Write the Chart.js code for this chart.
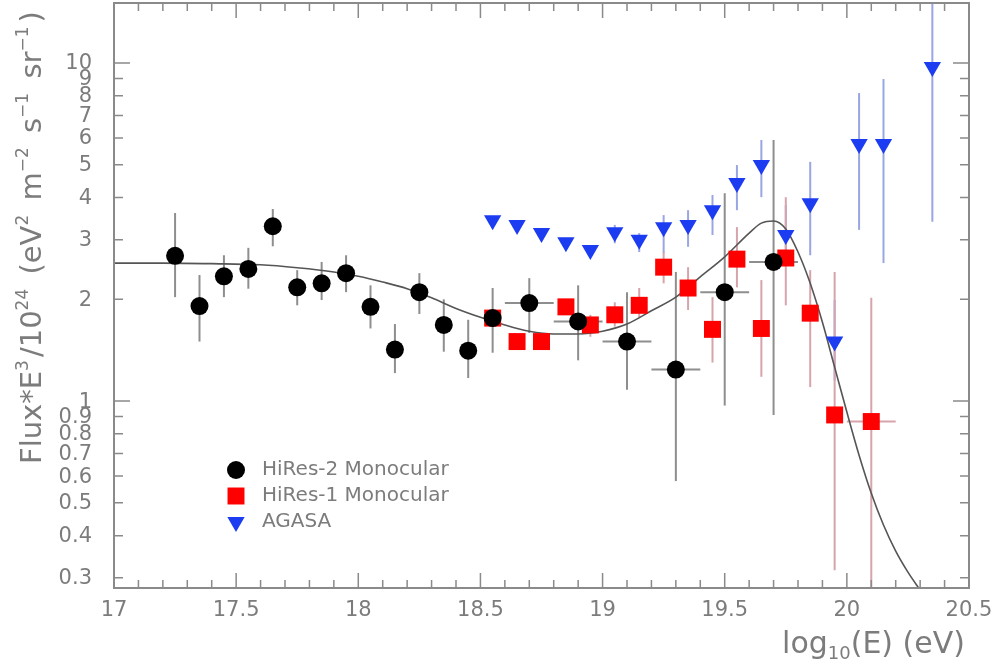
<!DOCTYPE html>
<html>
<head>
<meta charset="utf-8">
<script src="https://cdn.jsdelivr.net/npm/chart.js@4.4.1/dist/chart.umd.min.js"></script>
<style>
  html, body { margin: 0; padding: 0; background: #ffffff; }
  #wrap { width: 995px; height: 665px; }
</style>
</head>
<body>
<div id="wrap"><canvas id="c" width="995" height="665"></canvas></div>
<script>
// ---- HiRes-2 monocular ----
const hires2E    = [17.25, 17.35, 17.45, 17.55, 17.65, 17.75, 17.85, 17.95, 18.05, 18.15, 18.25, 18.35, 18.45, 18.55, 18.70, 18.90, 19.10, 19.30, 19.50, 19.70];
const hires2Flux = [2.69, 1.91, 2.34, 2.46, 3.29, 2.17, 2.23, 2.39, 1.90, 1.42, 2.10, 1.68, 1.41, 1.76, 1.95, 1.72, 1.50, 1.24, 2.10, 2.58];
const hires2Lo   = [2.03, 1.50, 2.03, 2.15, 2.87, 1.92, 1.99, 2.10, 1.64, 1.21, 1.81, 1.40, 1.17, 1.39, 1.59, 1.32, 1.08, 0.58, 0.97, 0.91];
const hires2Hi   = [3.60, 2.36, 2.70, 2.84, 3.70, 2.44, 2.58, 2.70, 2.20, 1.69, 2.39, 2.00, 1.74, 2.16, 2.31, 2.20, 2.10, 2.41, 4.12, 5.92];
const hires2ELo  = [null, null, null, null, null, null, null, null, null, null, null, null, null, null, 18.6, 18.8, 19.0, 19.2, 19.4, 19.6];
const hires2EHi  = [null, null, null, null, null, null, null, null, null, null, null, null, null, null, 18.8, 19.0, 19.2, 19.4, 19.6, 19.8];

// ---- HiRes-1 monocular ----
const hires1E    = [18.55, 18.65, 18.75, 18.85, 18.95, 19.05, 19.15, 19.25, 19.35, 19.45, 19.55, 19.65, 19.75, 19.85, 19.95, 20.10];
const hires1Flux = [1.76, 1.50, 1.50, 1.90, 1.68, 1.80, 1.92, 2.49, 2.16, 1.63, 2.63, 1.64, 2.65, 1.82, 0.91, 0.87];
const hires1Lo   = [null, null, null, null, 1.55, 1.66, 1.76, 2.23, 1.86, 1.30, 2.17, 1.18, 1.92, 1.10, 0.316, 0.20];
const hires1Hi   = [null, null, null, null, 1.80, 1.96, 2.16, 2.76, 2.49, 2.03, 3.27, 2.28, 4.01, 2.44, 2.41, 2.02];
const hires1ELo  = [null, null, null, null, null, null, null, null, null, null, null, null, null, null, null, 20.0];
const hires1EHi  = [null, null, null, null, null, null, null, null, null, null, null, null, null, null, null, 20.2];

// ---- AGASA ----
const agasaE    = [18.55, 18.65, 18.75, 18.85, 18.95, 19.05, 19.15, 19.25, 19.35, 19.45, 19.55, 19.65, 19.75, 19.85, 19.95, 20.05, 20.15, 20.35];
const agasaFlux = [3.43, 3.32, 3.14, 2.95, 2.80, 3.16, 3.00, 3.27, 3.32, 3.67, 4.42, 4.99, 3.10, 3.85, 1.50, 5.76, 5.76, 9.73];
const agasaLo   = [null, null, null, null, null, 2.93, 2.76, 2.74, 2.86, 3.10, 3.67, 4.01, 2.55, 2.70, 1.15, 3.21, 2.56, 3.39];
const agasaHi   = [null, null, null, null, null, 3.32, 3.14, 3.55, 3.67, 4.07, 4.99, 5.92, 3.80, 5.10, 1.99, 8.15, 8.97, 20.0];

// ---- fitted spectrum model ----
const curveE    = [17.0, 17.2, 17.4, 17.6, 17.75, 17.9, 18.0, 18.1, 18.2, 18.3, 18.4, 18.5, 18.6, 18.7, 18.8, 18.9, 19.0, 19.1, 19.2, 19.3, 19.4, 19.5, 19.6, 19.65, 19.7, 19.75, 19.8, 19.85, 19.9, 19.95, 20.0, 20.05, 20.1, 20.15, 20.2, 20.25, 20.3];
const curveFlux = [2.56, 2.56, 2.55, 2.53, 2.48, 2.41, 2.34, 2.25, 2.15, 2.02, 1.88, 1.77, 1.68, 1.61, 1.58, 1.58, 1.61, 1.69, 1.85, 2.03, 2.33, 2.67, 3.14, 3.36, 3.41, 3.23, 2.76, 2.23, 1.71, 1.26, 0.928, 0.692, 0.534, 0.430, 0.360, 0.312, 0.276];

// ---- axis ticks ----
const xTickValues = [17, 17.5, 18, 18.5, 19, 19.5, 20, 20.5];
const xMinorTicks = [17.1, 17.2, 17.3, 17.4, 17.6, 17.7, 17.8, 17.9, 18.1, 18.2, 18.3, 18.4, 18.6, 18.7, 18.8, 18.9, 19.1, 19.2, 19.3, 19.4, 19.6, 19.7, 19.8, 19.9, 20.1, 20.2, 20.3, 20.4];
const yTickValues = [0.3, 0.4, 0.5, 0.6, 0.7, 0.8, 0.9, 1, 2, 3, 4, 5, 6, 7, 8, 9, 10];
const yMajorTicks = [1, 10];

const legendNames = ['HiRes-2 Monocular', 'HiRes-1 Monocular', 'AGASA'];

const GRAY_TEXT = '#7c7c7c';
const FRAME = '#8a8a8a';
const FONT = 'DejaVu Sans';

const toXY = (xs, ys) => xs.map((x, i) => ({ x: x, y: ys[i] }));

const errSeries = [
  { x: agasaE,  y: agasaFlux,  lo: agasaLo,  hi: agasaHi,  color: '#9aa6e2' },
  { x: hires1E, y: hires1Flux, lo: hires1Lo, hi: hires1Hi, xlo: hires1ELo, xhi: hires1EHi, color: '#d7a4ac' },
  { x: hires2E, y: hires2Flux, lo: hires2Lo, hi: hires2Hi, xlo: hires2ELo, xhi: hires2EHi, color: '#8e8e8e' }
];

// vertical and horizontal error bars, beneath the markers
const errorBars = {
  id: 'errorBars',
  beforeDatasetsDraw(chart) {
    const xs = chart.scales.x, ys = chart.scales.y, ctx = chart.ctx, a = chart.chartArea;
    ctx.save();
    ctx.beginPath();
    ctx.rect(a.left, a.top, a.right - a.left, a.bottom - a.top);
    ctx.clip();
    ctx.lineWidth = 2;
    errSeries.forEach(s => {
      ctx.strokeStyle = s.color;
      s.x.forEach((xv, i) => {
        const px = xs.getPixelForValue(xv);
        const py = ys.getPixelForValue(s.y[i]);
        if (s.lo[i] != null) {
          ctx.beginPath();
          ctx.moveTo(px, ys.getPixelForValue(s.lo[i]));
          ctx.lineTo(px, ys.getPixelForValue(s.hi[i]));
          ctx.stroke();
        }
        if (s.xlo && s.xlo[i] != null) {
          ctx.beginPath();
          ctx.moveTo(xs.getPixelForValue(s.xlo[i]), py);
          ctx.lineTo(xs.getPixelForValue(s.xhi[i]), py);
          ctx.stroke();
        }
      });
    });
    ctx.restore();
  }
};

// frame with inward ticks on all four sides, plus the y tick labels
const frameTicks = {
  id: 'frameTicks',
  afterDatasetsDraw(chart) {
    const xs = chart.scales.x, ys = chart.scales.y, ctx = chart.ctx, a = chart.chartArea;
    ctx.save();
    ctx.strokeStyle = FRAME;
    ctx.lineWidth = 2;
    ctx.strokeRect(a.left, a.top, a.right - a.left, a.bottom - a.top);
    ctx.lineWidth = 1.5;
    ctx.beginPath();
    const xt = (v, len) => {
      const p = xs.getPixelForValue(v);
      ctx.moveTo(p, a.bottom); ctx.lineTo(p, a.bottom - len);
      ctx.moveTo(p, a.top);    ctx.lineTo(p, a.top + len);
    };
    xTickValues.forEach(v => xt(v, 15));
    xMinorTicks.forEach(v => xt(v, 8));
    yTickValues.forEach(v => {
      const p = ys.getPixelForValue(v);
      const len = yMajorTicks.includes(v) ? 16 : 9;
      ctx.moveTo(a.left, p);  ctx.lineTo(a.left + len, p);
      ctx.moveTo(a.right, p); ctx.lineTo(a.right - len, p);
    });
    ctx.stroke();

    ctx.fillStyle = GRAY_TEXT;
    ctx.font = '21px "' + FONT + '"';
    ctx.textAlign = 'right';
    ctx.textBaseline = 'middle';
    yTickValues.forEach(v => {
      ctx.fillText(String(v), a.left - 22, ys.getPixelForValue(v) + 1);
    });
    ctx.restore();
  }
};

function drawRich(ctx, parts, x, y, size) {
  let cx = x;
  parts.forEach(p => {
    const s = (p.sup || p.sub) ? Math.round(size * 0.6) : size;
    ctx.font = s + 'px "' + FONT + '"';
    const dy = p.sup ? -size * 0.45 : (p.sub ? size * 0.2 : 0);
    ctx.fillText(p.t, cx, y + dy);
    cx += ctx.measureText(p.t).width + (p.gap || 0);
  });
  return cx - x;
}
function richWidth(ctx, parts, size) {
  let w = 0;
  parts.forEach(p => {
    const s = (p.sup || p.sub) ? Math.round(size * 0.6) : size;
    ctx.font = s + 'px "' + FONT + '"';
    w += ctx.measureText(p.t).width + (p.gap || 0);
  });
  return w;
}

const yTitleParts = [
  { t: 'Flux*E' }, { t: '3', sup: true, gap: 3 }, { t: '/10' }, { t: '24', sup: true, gap: 5 },
  { t: ' (eV' }, { t: '2', sup: true, gap: 5 }, { t: ' m' }, { t: '\u22122', sup: true, gap: 5 },
  { t: ' s' }, { t: '\u22121', sup: true, gap: 5 }, { t: ' sr' }, { t: '\u22121', sup: true, gap: 4 }, { t: ')' }
];
const xTitleParts = [{ t: 'log' }, { t: '10', sub: true }, { t: '(E) (eV)' }];

const titlesAndLegend = {
  id: 'titlesAndLegend',
  afterDraw(chart) {
    const ctx = chart.ctx;
    ctx.save();
    ctx.fillStyle = GRAY_TEXT;
    ctx.textBaseline = 'alphabetic';
    ctx.textAlign = 'left';
    // y title, rotated
    ctx.save();
    ctx.translate(41, 464);
    ctx.rotate(-Math.PI / 2);
    drawRich(ctx, yTitleParts, 0, 0, 29);
    ctx.restore();
    // x title, right aligned
    const w = richWidth(ctx, xTitleParts, 30);
    drawRich(ctx, xTitleParts, 965 - w, 653, 30);

    // legend
    const rows = [470, 496, 522];
    chart.data.datasets.slice(0, 3).forEach((ds, i) => {
      const opts = {
        pointStyle: ds.pointStyle,
        radius: ds.pointRadius,
        rotation: ds.rotation || 0,
        borderWidth: 0
      };
      ctx.fillStyle = ds.backgroundColor;
      ctx.strokeStyle = ds.backgroundColor;
      Chart.helpers.drawPoint(ctx, opts, 236, rows[i]);
      ctx.fillStyle = GRAY_TEXT;
      ctx.font = '20px "' + FONT + '"';
      ctx.textBaseline = 'middle';
      ctx.fillText(legendNames[i], 262, rows[i]);
    });
    ctx.restore();
  }
};

const chart = new Chart(document.getElementById('c'), {
  type: 'scatter',
  data: {
    datasets: [
      {
        label: legendNames[0],
        data: toXY(hires2E, hires2Flux),
        pointStyle: 'circle', pointRadius: 9,
        backgroundColor: '#000000', borderColor: '#000000', borderWidth: 0
      },
      {
        label: legendNames[1],
        data: toXY(hires1E, hires1Flux),
        pointStyle: 'rect', pointRadius: 12,
        backgroundColor: '#ff0000', borderColor: '#ff0000', borderWidth: 0
      },
      {
        label: legendNames[2],
        data: toXY(agasaE, agasaFlux),
        pointStyle: 'triangle', pointRadius: 10, rotation: 180,
        backgroundColor: '#1c3cf2', borderColor: '#1c3cf2', borderWidth: 0
      },
      {
        label: 'model',
        type: 'line',
        data: toXY(curveE, curveFlux),
        showLine: true,
        pointRadius: 0,
        borderColor: '#555555',
        borderWidth: 1.6,
        fill: false,
        cubicInterpolationMode: 'monotone'
      }
    ]
  },
  options: {
    responsive: false,
    animation: false,
    events: [],
    devicePixelRatio: 1,
    layout: { autoPadding: false, padding: { left: 0, right: 26, top: 3, bottom: 0 } },
    plugins: { legend: { display: false }, tooltip: { enabled: false }, title: { display: false } },
    scales: {
      x: {
        type: 'linear', min: 17, max: 20.5,
        grid: { display: false, drawTicks: false },
        border: { display: false },
        afterBuildTicks: s => { s.ticks = xTickValues.map(v => ({ value: v })); },
        afterFit: s => { s.height = 77; s.paddingLeft = 0; s.paddingRight = 0; },
        ticks: {
          autoSkip: false, maxRotation: 0, padding: 10,
          color: GRAY_TEXT, font: { family: FONT, size: 21 },
          callback: v => String(v)
        }
      },
      y: {
        type: 'logarithmic', min: 0.28, max: 15.05,
        grid: { display: false, drawTicks: false },
        border: { display: false },
        afterFit: s => { s.width = 114; s.paddingTop = 0; s.paddingBottom = 0; },
        ticks: { display: false }
      }
    }
  },
  plugins: [errorBars, frameTicks, titlesAndLegend]
});
</script>
</body>
</html>
